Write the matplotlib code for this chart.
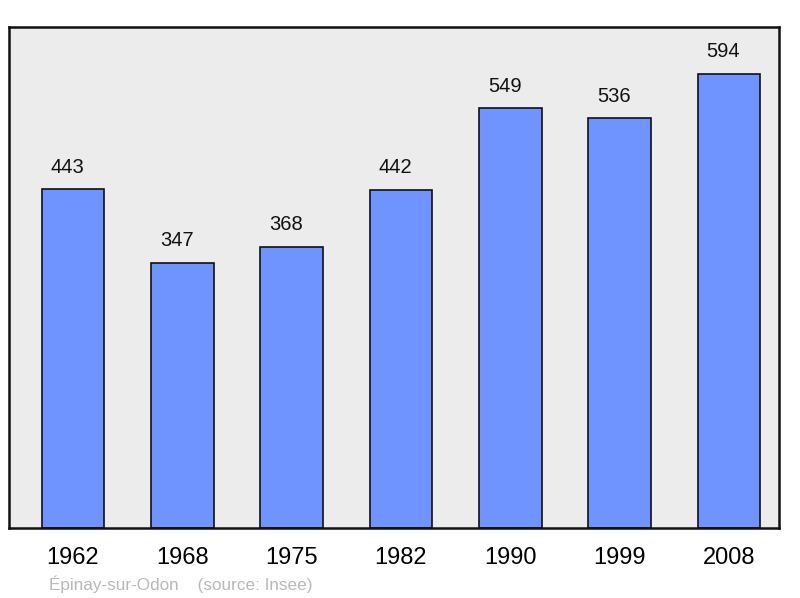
import matplotlib.pyplot as plt

years = ["1962", "1968", "1975", "1982", "1990", "1999", "2008"]
population = [443, 347, 368, 442, 549, 536, 594]

plt.rcParams['font.family'] = ['Liberation Sans', 'DejaVu Sans']

fig = plt.figure(figsize=(8, 5.98), dpi=100)
ax = fig.add_axes([9 / 800, 70 / 598, 770 / 800, 501 / 598])
ax.set_facecolor('#ececec')

x = range(len(years))
bars = ax.bar(x, population, width=0.575, color='#7094ff',
              edgecolor='#111111', linewidth=1.2, zorder=2)

# value labels sit a little left of the bar centre in the original
for xi, v in zip(x, population):
    ax.annotate(str(v), (xi, v), xytext=(-4, 9), textcoords='offset points',
                ha='center', va='bottom', fontsize=14.5, color='#111111')

ax.set_xlim(-0.585, 6.457)
ax.set_ylim(0, 655)
ax.set_yticks([])
ax.set_xticks(list(x))
ax.set_xticklabels(years, fontsize=17)
ax.tick_params(axis='x', length=0, pad=14)
for s in ax.spines.values():
    s.set_linewidth(1.8)
    s.set_color('#111111')

fig.text(49 / 800, 1 - 584 / 598, "Épinay-sur-Odon    (source: Insee)",
         fontsize=12.3, color='#b8b8b8', ha='left', va='center')

fig.savefig('out.png', dpi=100)
